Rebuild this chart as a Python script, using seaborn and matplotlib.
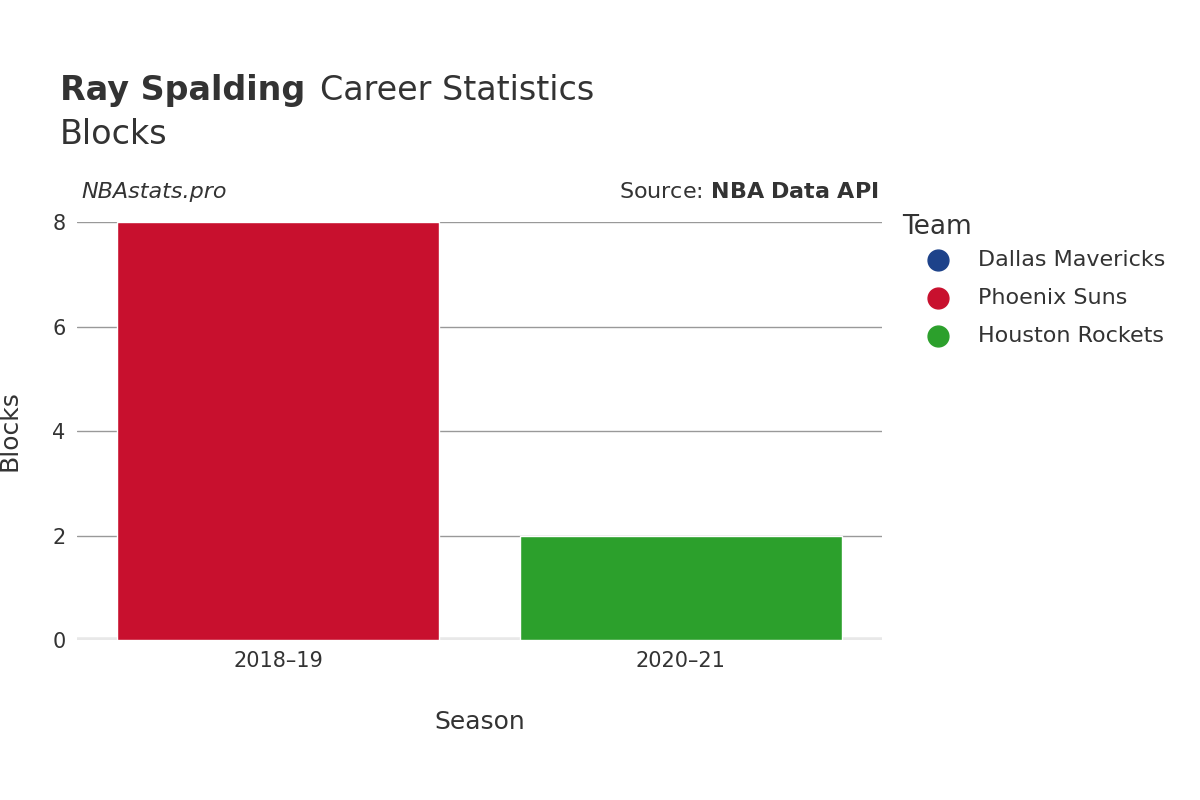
import matplotlib
matplotlib.use('Agg')
import matplotlib.pyplot as plt
import seaborn as sns
import pandas as pd
from matplotlib.lines import Line2D

seasons = ["2018\u201319", "2020\u201321"]
teams = ["Phoenix Suns", "Houston Rockets"]
blocks = [8, 2]
legend_teams = ["Dallas Mavericks", "Phoenix Suns", "Houston Rockets"]
team_colors = {"Dallas Mavericks": "#1D428A", "Phoenix Suns": "#C8102E", "Houston Rockets": "#2CA02C"}

df = pd.DataFrame({"Season": seasons, "Team": teams, "Blocks": blocks})

sns.set_theme(style="white", font="DejaVu Sans")
fig = plt.figure(figsize=(12, 8), dpi=100)
ax = fig.add_axes([0.064, 0.2, 0.671, 0.5225])

sns.barplot(data=df, x="Season", y="Blocks", hue="Team", palette=team_colors,
            dodge=False, width=0.8, ax=ax, legend=False, saturation=1, zorder=2)

ax.set_ylim(0, 8)
ax.set_xlim(-0.5, 1.5)
ax.set_yticks([0, 2, 4, 6, 8])
ax.yaxis.grid(True, color="#999999", linewidth=1, zorder=0)
ax.axhline(0, color="#e8e8e8", linewidth=4, zorder=1)
for s in ax.spines.values():
    s.set_visible(False)
ax.tick_params(axis="both", labelsize=15, labelcolor="#333333", length=0, pad=8)
ax.set_xlabel("Season", fontsize=18, color="#333333", labelpad=28)
ax.set_ylabel("Blocks", fontsize=18, color="#333333", labelpad=22)

fig.text(0.05, 0.875, "Ray Spalding", fontsize=24, fontweight="bold", color="#333333")
fig.text(0.267, 0.875, "Career Statistics", fontsize=24, color="#333333")
fig.text(0.05, 0.82, "Blocks", fontsize=24, color="#333333")
fig.text(0.068, 0.752, "NBAstats.pro", fontsize=16, style="italic", color="#333333")
fig.text(0.732, 0.752, "Source: $\\bf{NBA\\ Data\\ API}$", fontsize=16, color="#333333", ha="right")

fig.text(0.752, 0.708, "Team", fontsize=19, color="#333333")
for i, t in enumerate(legend_teams):
    y = 0.667 - i * 0.0475
    fig.add_artist(Line2D([0.782], [y + 0.0075], marker="o", markersize=15,
                          color=team_colors[t], transform=fig.transFigure))
    fig.text(0.815, y, t, fontsize=16, color="#333333")

fig.savefig("out.png", dpi=100, facecolor="white")
